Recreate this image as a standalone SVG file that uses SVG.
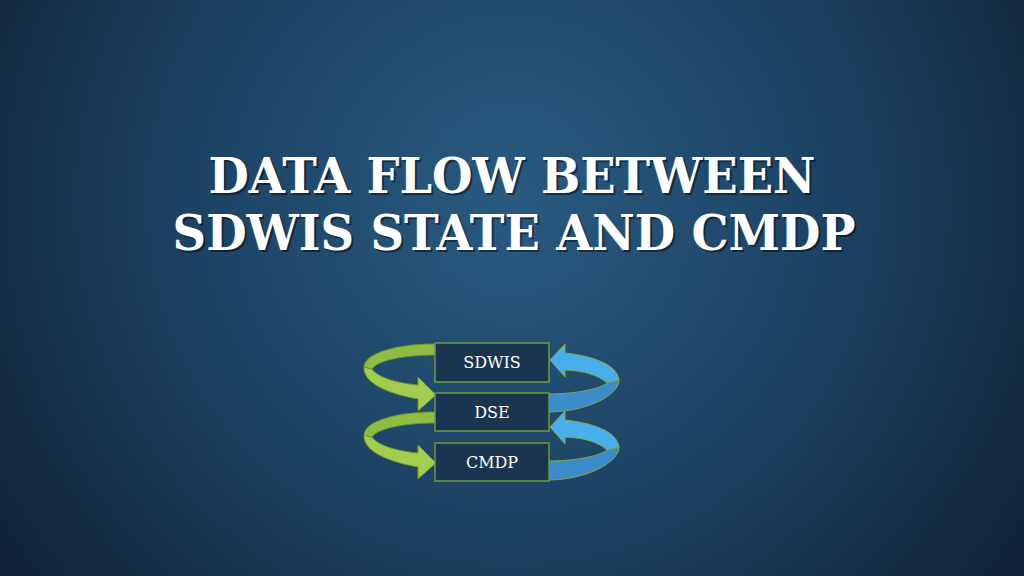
<svg xmlns="http://www.w3.org/2000/svg" width="1024" height="576" viewBox="0 0 1024 576">
  <defs>
    <radialGradient id="bg" cx="512" cy="200" r="720" gradientUnits="userSpaceOnUse">
      <stop offset="0" stop-color="#2a5a80"/>
      <stop offset="0.45" stop-color="#1c4263"/>
      <stop offset="0.8" stop-color="#11283e"/>
      <stop offset="1" stop-color="#0b1a2a"/>
    </radialGradient>
    <style>
      .title { font-family: "DejaVu Serif", "Liberation Serif", serif; font-weight: bold; font-size: 49px; fill: #ffffff; }
      .shadow { font-family: "DejaVu Serif", "Liberation Serif", serif; font-weight: bold; font-size: 49px; fill: #000000; opacity: 0.45; }
      .box { fill: #1a3550; stroke: #6e9a3c; stroke-width: 1.5; }
      .lbl { font-family: "DejaVu Serif", "Liberation Serif", serif; font-size: 16px; fill: #ffffff; text-anchor: middle; }
      .gfront { fill: #a2cd4e; stroke: #6f9530; stroke-width: 1; }
      .gback { fill: #8fbd43; stroke: #6f9530; stroke-width: 1; }
      .bback { fill: #47b0ec; stroke: #86a63c; stroke-width: 1; }
      .bfront { fill: #3a8dca; stroke: #86a63c; stroke-width: 1; }
    </style>
  </defs>
  <rect width="1024" height="576" fill="url(#bg)"/>

  <g id="title">
    <text class="shadow" x="514" y="195" text-anchor="middle" textLength="607" lengthAdjust="spacingAndGlyphs">DATA FLOW BETWEEN</text>
    <text class="shadow" x="516" y="252" text-anchor="middle" textLength="683" lengthAdjust="spacingAndGlyphs">SDWIS STATE AND CMDP</text>
    <text class="title" x="512" y="193" text-anchor="middle" textLength="607" lengthAdjust="spacingAndGlyphs">DATA FLOW BETWEEN</text>
    <text class="title" x="514" y="250" text-anchor="middle" textLength="683" lengthAdjust="spacingAndGlyphs">SDWIS STATE AND CMDP</text>
  </g>

  <g id="connectors">
    <g id="arrow-sdwis-dse">
      <path class="gfront" d="M364,367 C363,384 390,394 418,399 L418,411 L436,395 L418,377 L418,385 C396,383 377,377 372,369 Z"/>
      <path class="gback" d="M435,344 C400,344 365,352 364,367 L372,369 C378,360 405,355 435,355 Z"/>
    </g>
    <g id="arrow-dse-cmdp">
      <path class="gfront" d="M364,435 C363,452 390,462 418,467 L418,479 L436,463 L418,445 L418,453 C396,451 377,445 372,437 Z"/>
      <path class="gback" d="M435,412 C400,412 365,420 364,435 L372,437 C378,428 405,423 435,423 Z"/>
    </g>
    <g id="arrow-dse-sdwis">
      <path class="bback" d="M550,360 L565,344 L565,353 C592,356 617,364 619,380 L607,383 C598,375 585,371 565,370 L565,377 Z"/>
      <path class="bfront" d="M548,394 C575,394 600,389 607,383 L619,380 C619,396 585,412 548,412 Z"/>
    </g>
    <g id="arrow-cmdp-dse">
      <path class="bback" d="M550,427 L565,411 L565,420 C592,423 617,431 619,447 L607,450 C598,442 585,438 565,437 L565,444 Z"/>
      <path class="bfront" d="M548,461 C575,461 600,456 607,450 L619,447 C619,463 585,480 548,480 Z"/>
    </g>
  </g>

  <g id="node-sdwis">
    <rect class="box" x="435" y="343" width="114" height="39"/>
    <text class="lbl" x="492" y="368">SDWIS</text>
  </g>
  <g id="node-dse">
    <rect class="box" x="435" y="393" width="114" height="38"/>
    <text class="lbl" x="492" y="418">DSE</text>
  </g>
  <g id="node-cmdp">
    <rect class="box" x="435" y="443" width="114" height="38"/>
    <text class="lbl" x="492" y="468">CMDP</text>
  </g>
</svg>
